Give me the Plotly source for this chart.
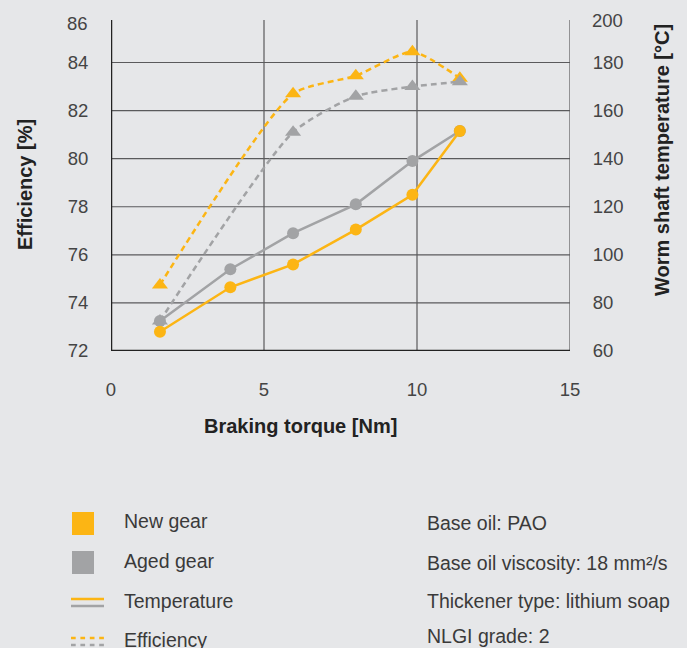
"""
Worm gear test: efficiency and worm shaft temperature vs braking torque.
"""

import plotly.graph_objects as go

# ------------------------------------------------------------------ #
# Data
# ------------------------------------------------------------------ #
torque_temp = [1.6, 3.9, 5.95, 8.0, 9.85, 11.4]
temp_new = [68, 86.5, 96, 110.5, 125, 151.5]
temp_aged = [72.5, 94, 109, 121, 139, 151.5]

torque_eff = [1.6, 5.95, 8.0, 9.85, 11.4]
eff_new = [74.75, 82.7, 83.45, 84.45, 83.35]
eff_aged = [73.25, 81.1, 82.6, 83.0, 83.2]

x_ticks = [0, 5, 10, 15]
eff_ticks = [72, 74, 76, 78, 80, 82, 84, 86]
temp_ticks = [60, 80, 100, 120, 140, 160, 180, 200]

legend_labels = ["New gear", "Aged gear", "Temperature", "Efficiency"]
notes = [
    "Base oil: PAO",
    "Base oil viscosity: 18 mm²/s",
    "Thickener type: lithium soap",
    "NLGI grade: 2",
]

ORANGE = "#fcb514"
GREY = "#a2a3a5"
BG = "#e6e7e9"
GRID = "#5a5a5c"
FONT = "Liberation Sans"

# plot area in pixels (top of the axes sits a little below the 86 / 200 mark)
L, R, T, B = 111, 570, 20, 351
W, H = 687, 648
PX_PER_PCT = 24.04
EFF_TOP = 72 + (B - T) / PX_PER_PCT
TEMP_TOP = 60 + (EFF_TOP - 72) * 10


def px(x):
    return (x - L) / (R - L)


def py(y):
    return (B - y) / (B - T)


fig = go.Figure()

# temperature (solid, circles) on secondary axis
fig.add_trace(go.Scatter(
    x=torque_temp, y=temp_aged, yaxis="y2", mode="lines+markers",
    line=dict(color=GREY, width=2.5), marker=dict(size=12, color=GREY),
))
fig.add_trace(go.Scatter(
    x=torque_temp, y=temp_new, yaxis="y2", mode="lines+markers",
    line=dict(color=ORANGE, width=2.5), marker=dict(size=12, color=ORANGE),
))
# efficiency (dashed, triangles)
fig.add_trace(go.Scatter(
    x=torque_eff, y=eff_new, mode="lines+markers",
    line=dict(color=ORANGE, width=2.5, dash="6px,4px", shape="spline", smoothing=0.6),
    marker=dict(size=14, color=ORANGE, symbol="triangle-up"),
))
fig.add_trace(go.Scatter(
    x=torque_eff, y=eff_aged, mode="lines+markers",
    line=dict(color=GREY, width=2.5, dash="6px,4px", shape="spline", smoothing=0.6),
    marker=dict(size=14, color=GREY, symbol="triangle-up"),
))

# ------------------------------------------------------------------ #
# Grid and axis lines
# ------------------------------------------------------------------ #
for v in eff_ticks[1:-1]:
    fig.add_shape(type="line", x0=0, x1=15, y0=v, y1=v, layer="below",
                  line=dict(color=GRID, width=1.2))
for v in x_ticks[1:]:
    fig.add_shape(type="line", x0=v, x1=v, y0=72, y1=EFF_TOP, layer="below",
                  line=dict(color=GRID, width=1.2))
fig.add_shape(type="line", x0=0, x1=0, y0=72, y1=EFF_TOP,
              line=dict(color="#222222", width=2.5))
fig.add_shape(type="line", x0=0, x1=15, y0=72, y1=72,
              line=dict(color="#222222", width=2.5))

# ------------------------------------------------------------------ #
# Custom legend and notes
# ------------------------------------------------------------------ #
for y0, c in [(512, ORANGE), (551, GREY)]:
    fig.add_shape(type="rect", xref="paper", yref="paper",
                  x0=px(72), x1=px(94), y0=py(y0), y1=py(y0 + 23),
                  fillcolor=c, line=dict(width=0))
fig.add_shape(type="line", xref="paper", yref="paper", x0=px(71), x1=px(104),
              y0=py(599), y1=py(599), line=dict(color=ORANGE, width=2.5))
fig.add_shape(type="line", xref="paper", yref="paper", x0=px(71), x1=px(104),
              y0=py(606), y1=py(606), line=dict(color=GREY, width=2.5))
fig.add_shape(type="line", xref="paper", yref="paper", x0=px(71), x1=px(106),
              y0=py(638), y1=py(638), line=dict(color=ORANGE, width=2.5, dash="4.7px,4.7px"))
fig.add_shape(type="line", xref="paper", yref="paper", x0=px(71), x1=px(106),
              y0=py(645), y1=py(645), line=dict(color=GREY, width=2.5, dash="4.7px,4.7px"))

text_font = dict(family=FONT, size=19.5, color="#3a3a3a")
annotations = []
for label, yc in zip(legend_labels, [521, 561, 601, 640]):
    annotations.append(dict(x=px(122), y=py(yc), xref="paper", yref="paper",
                            text=label, showarrow=False, xanchor="left", yanchor="middle",
                            font=text_font))
for note, yc in zip(notes, [523, 563, 601, 636]):
    annotations.append(dict(x=px(425), y=py(yc), xref="paper", yref="paper",
                            text=note, showarrow=False, xanchor="left", yanchor="middle",
                            font=text_font))

title_font = dict(family=FONT, size=20, color="#222222")
annotations += [
    dict(x=px(25), y=py(185), xref="paper", yref="paper", text="<b>Efficiency [%]</b>",
         textangle=-90, showarrow=False, xanchor="center", yanchor="middle", font=title_font),
    dict(x=px(662), y=py(160), xref="paper", yref="paper",
         text="<b>Worm shaft temperature [°C]</b>", textangle=-90, showarrow=False,
         xanchor="center", yanchor="middle", font=title_font),
    dict(x=px(300), y=py(426), xref="paper", yref="paper", text="<b>Braking torque [Nm]</b>",
         showarrow=False, xanchor="center", yanchor="middle", font=title_font),
]

# top tick labels (86 and 200) sit at the very top of the axes
tick_font = dict(family=FONT, size=18.5, color="#444444")
annotations += [
    dict(x=px(90), y=py(23), xref="paper", yref="paper", text=str(eff_ticks[-1]),
         showarrow=False, xanchor="right", yanchor="middle", font=tick_font),
    dict(x=px(590), y=py(20), xref="paper", yref="paper", text=str(temp_ticks[-1]),
         showarrow=False, xanchor="left", yanchor="middle", font=tick_font),
]

# ------------------------------------------------------------------ #
# Layout
# ------------------------------------------------------------------ #
fig.update_layout(
    width=W, height=H,
    margin=dict(l=L, r=W - R, t=T, b=H - B),
    paper_bgcolor=BG, plot_bgcolor=BG,
    showlegend=False,
    xaxis=dict(range=[0, 15], tickvals=x_ticks, showgrid=False, zeroline=False,
               showline=False, ticks="outside", ticklen=22, tickcolor="rgba(0,0,0,0)",
               tickfont=tick_font, fixedrange=True),
    yaxis=dict(range=[72, EFF_TOP], tickvals=eff_ticks[:-1], showgrid=False, zeroline=False,
               showline=False, ticks="outside", ticklen=18, tickcolor="rgba(0,0,0,0)",
               tickfont=tick_font, fixedrange=True),
    yaxis2=dict(range=[60, TEMP_TOP], tickvals=temp_ticks[:-1], overlaying="y", side="right",
                showgrid=False, zeroline=False, showline=False, ticks="outside",
                ticklen=18, tickcolor="rgba(0,0,0,0)", tickfont=tick_font, fixedrange=True),
    annotations=annotations,
)

fig.write_html(
    "out.html",
    config={"displayModeBar": False},
    post_script=f"document.body.style.margin='0';document.body.style.background='{BG}';",
)
